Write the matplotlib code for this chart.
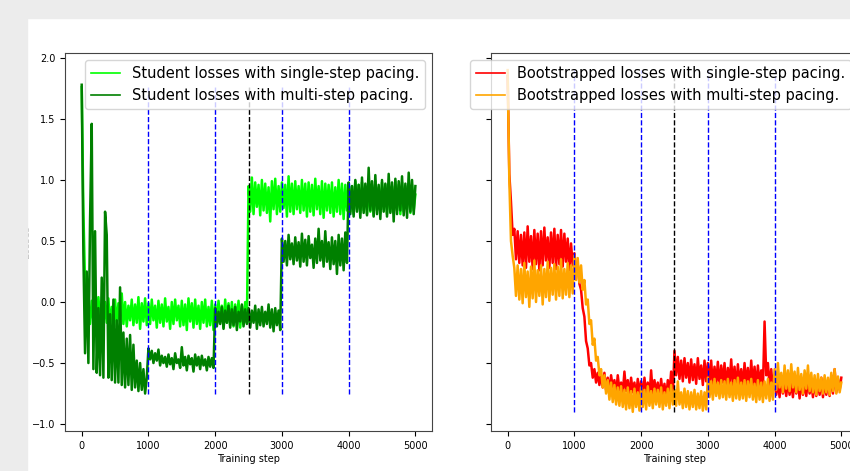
import numpy as np
import matplotlib
matplotlib.use("Agg")
import matplotlib.pyplot as plt
from matplotlib.patches import Rectangle

# loss readings every 25 training steps (0 .. 5000)
step_size = 25

student_single = [
    1.76, 0.75, 0.15, -0.02, -0.08, -0.18, 0.01, -0.16, -0.03, -0.20,
    0.04, -0.14, -0.02, -0.19, 0.00, -0.17, 0.03, -0.21, -0.04, -0.15,
    0.02, -0.20, -0.01, -0.16, 0.07, -0.18, 0.00, -0.20, -0.03, -0.15,
    0.02, -0.19, -0.02, -0.17, 0.04, -0.22, -0.01, -0.16, 0.03, -0.19,
    -0.01, -0.18, 0.02, -0.15, -0.03, -0.21, 0.01, -0.17, -0.02, -0.20,
    0.03, -0.16, -0.04, -0.22, 0.00, -0.18, 0.02, -0.15, -0.03, -0.20,
    0.01, -0.19, -0.02, -0.23, 0.03, -0.16, -0.01, -0.21, 0.02, -0.18,
    -0.03, -0.22, 0.00, -0.17, 0.02, -0.20, -0.04, -0.19, 0.01, -0.23,
    -0.02, -0.18, 0.01, -0.16, -0.03, -0.21, 0.02, -0.17, -0.01, -0.19,
    0.00, -0.20, -0.02, -0.16, 0.01, -0.21, -0.03, -0.18, 0.00, -0.17,
    0.95, 0.74, 1.02, 0.72, 0.98, 0.78, 0.96, 0.71, 1.00, 0.75,
    0.97, 0.73, 0.94, 0.66, 0.99, 0.76, 1.01, 0.72, 0.95, 0.74,
    0.98, 0.77, 0.96, 0.70, 1.03, 0.74, 0.97, 0.72, 0.99, 0.76,
    0.95, 0.73, 1.00, 0.75, 0.97, 0.70, 0.98, 0.74, 0.96, 0.71,
    1.01, 0.76, 0.95, 0.72, 0.99, 0.69, 0.97, 0.75, 0.96, 0.73,
    0.98, 0.70, 0.94, 0.74, 1.00, 0.72, 0.97, 0.68, 0.96, 0.75,
    0.97, 0.74, 0.95, 0.72, 0.99, 0.76, 0.96, 0.73, 0.98, 0.75,
    0.95, 0.72, 0.97, 0.74, 0.96, 0.71, 0.99, 0.75, 0.94, 0.73,
    0.98, 0.76, 0.96, 0.72, 0.97, 0.74, 0.95, 0.73, 0.99, 0.75,
    0.96, 0.72, 0.98, 0.74, 0.95, 0.76, 0.97, 0.73, 0.96, 0.75,
    0.88,
]

student_multi = [
    1.78, 0.40, -0.42, 0.25, -0.50, 0.67, 1.46, -0.55, 0.58, -0.58,
    -0.05, -0.60, 0.20, -0.62, 0.74, 0.55, -0.62, -0.10, -0.64, 0.02,
    -0.66, -0.15, -0.66, 0.12, -0.68, -0.25, -0.70, -0.30, -0.68, -0.27,
    -0.72, -0.35, -0.70, -0.48, -0.73, -0.50, -0.72, -0.55, -0.75, -0.62,
    -0.38, -0.47, -0.40, -0.50, -0.42, -0.48, -0.39, -0.52, -0.44, -0.50,
    -0.45, -0.53, -0.43, -0.51, -0.46, -0.55, -0.42, -0.50, -0.47, -0.54,
    -0.37, -0.52, -0.45, -0.56, -0.44, -0.51, -0.46, -0.57, -0.43, -0.52,
    -0.45, -0.55, -0.44, -0.52, -0.47, -0.56, -0.45, -0.53, -0.46, -0.54,
    -0.05, -0.20, -0.08, -0.18, -0.04, -0.22, -0.07, -0.17, -0.03, -0.21,
    -0.06, -0.19, -0.04, -0.23, -0.08, -0.16, -0.02, -0.20, -0.06, -0.18,
    -0.05, -0.21, -0.07, -0.17, -0.03, -0.22, -0.06, -0.19, -0.04, -0.20,
    -0.08, -0.18, -0.02, -0.21, -0.06, -0.24, -0.05, -0.19, -0.07, -0.23,
    0.52, 0.33, 0.50, 0.30, 0.55, 0.35, 0.48, 0.31, 0.53, 0.34,
    0.49, 0.29, 0.56, 0.33, 0.51, 0.30, 0.54, 0.36, 0.47, 0.28,
    0.52, 0.32, 0.60, 0.34, 0.50, 0.29, 0.58, 0.33, 0.49, 0.27,
    0.53, 0.31, 0.50, 0.23, 0.55, 0.30, 0.52, 0.26, 0.57, 0.32,
    0.98, 0.72, 0.95, 0.70, 1.00, 0.74, 0.96, 0.69, 1.02, 0.73,
    0.97, 0.71, 1.10, 0.75, 0.99, 0.70, 1.04, 0.72, 0.96, 0.68,
    1.00, 0.74, 0.97, 0.70, 1.05, 0.73, 0.98, 0.66, 1.01, 0.72,
    0.99, 0.75, 1.03, 0.71, 0.97, 0.69, 1.06, 0.74, 1.00, 0.72,
    0.95,
]

boot_single = [
    1.85, 1.05, 0.82, 0.55, 0.60, 0.35, 0.58, 0.32, 0.55, 0.30,
    0.57, 0.28, 0.62, 0.33, 0.54, 0.27, 0.59, 0.31, 0.56, 0.26,
    0.58, 0.30, 0.61, 0.34, 0.53, 0.28, 0.57, 0.32, 0.60, 0.27,
    0.55, 0.31, 0.59, 0.29, 0.56, 0.33, 0.52, 0.26, 0.48, 0.30,
    0.40, 0.28, 0.30, 0.15, 0.10, -0.05, -0.12, -0.32, -0.38, -0.52,
    -0.50, -0.62, -0.55, -0.66, -0.58, -0.68, -0.60, -0.70, -0.58, -0.72,
    -0.62, -0.74, -0.60, -0.70, -0.64, -0.76, -0.60, -0.72, -0.66, -0.75,
    -0.57, -0.73, -0.64, -0.77, -0.62, -0.74, -0.66, -0.78, -0.63, -0.76,
    -0.65, -0.78, -0.62, -0.75, -0.66, -0.79, -0.56, -0.76, -0.64, -0.74,
    -0.66, -0.79, -0.63, -0.77, -0.67, -0.80, -0.64, -0.75, -0.57, -0.78,
    -0.40, -0.60, -0.45, -0.63, -0.48, -0.65, -0.46, -0.62, -0.50, -0.66,
    -0.47, -0.64, -0.51, -0.67, -0.46, -0.63, -0.52, -0.68, -0.48, -0.65,
    -0.50, -0.66, -0.48, -0.69, -0.53, -0.67, -0.49, -0.70, -0.52, -0.66,
    -0.50, -0.71, -0.54, -0.67, -0.47, -0.69, -0.53, -0.72, -0.51, -0.68,
    -0.55, -0.70, -0.50, -0.68, -0.54, -0.72, -0.48, -0.69, -0.53, -0.71,
    -0.52, -0.68, -0.56, -0.72, -0.16, -0.60, -0.50, -0.70, -0.55, -0.73,
    -0.62, -0.76, -0.65, -0.78, -0.63, -0.75, -0.66, -0.77, -0.64, -0.76,
    -0.66, -0.78, -0.63, -0.75, -0.65, -0.79, -0.64, -0.76, -0.67, -0.77,
    -0.63, -0.75, -0.66, -0.78, -0.64, -0.77, -0.65, -0.76, -0.62, -0.78,
    -0.64, -0.76, -0.66, -0.77, -0.60, -0.75, -0.55, -0.74, -0.63, -0.72,
    -0.62,
]

boot_multi = [
    1.90, 1.00, 0.50, 0.38, 0.28, 0.05, 0.30, 0.02, 0.27, -0.01,
    0.32, 0.04, 0.25, -0.04, 0.29, 0.03, 0.34, 0.00, 0.26, 0.05,
    0.30, -0.02, 0.27, 0.04, 0.33, 0.01, 0.28, 0.06, 0.31, 0.02,
    0.29, 0.05, 0.35, 0.03, 0.27, 0.06, 0.32, 0.04, 0.30, 0.07,
    0.38, 0.18, 0.36, 0.16, 0.30, 0.10, 0.18, -0.02, 0.02, -0.18,
    -0.15, -0.35, -0.30, -0.48, -0.45, -0.60, -0.55, -0.70, -0.60, -0.75,
    -0.64, -0.80, -0.66, -0.82, -0.68, -0.84, -0.70, -0.85, -0.69, -0.86,
    -0.72, -0.88, -0.70, -0.87, -0.73, -0.90, -0.71, -0.86, -0.74, -0.89,
    -0.70, -0.86, -0.72, -0.88, -0.69, -0.85, -0.73, -0.87, -0.71, -0.84,
    -0.72, -0.86, -0.70, -0.88, -0.74, -0.85, -0.71, -0.87, -0.68, -0.84,
    -0.72, -0.85, -0.65, -0.84, -0.74, -0.87, -0.71, -0.86, -0.73, -0.88,
    -0.74, -0.86, -0.72, -0.88, -0.75, -0.87, -0.73, -0.89, -0.74, -0.88,
    -0.62, -0.78, -0.65, -0.80, -0.63, -0.77, -0.66, -0.79, -0.64, -0.78,
    -0.65, -0.80, -0.63, -0.78, -0.66, -0.81, -0.64, -0.79, -0.62, -0.80,
    -0.66, -0.79, -0.64, -0.81, -0.65, -0.78, -0.63, -0.80, -0.67, -0.82,
    -0.64, -0.80, -0.66, -0.82, -0.65, -0.79, -0.63, -0.81, -0.66, -0.80,
    -0.55, -0.72, -0.50, -0.70, -0.58, -0.74, -0.52, -0.71, -0.56, -0.73,
    -0.51, -0.70, -0.57, -0.74, -0.54, -0.72, -0.59, -0.75, -0.56, -0.71,
    -0.52, -0.73, -0.58, -0.74, -0.60, -0.76, -0.59, -0.73, -0.62, -0.75,
    -0.60, -0.74, -0.62, -0.76, -0.58, -0.73, -0.55, -0.75, -0.61, -0.74,
    -0.66,
]

multi_pacing_steps = [1000, 2000, 3000, 4000]
single_pacing_step = 2500

fig = plt.figure(figsize=(8.5, 4.71), dpi=100)
ax1 = fig.add_axes([0.0765, 0.0849, 0.4318, 0.8025])
ax2 = fig.add_axes([0.5776, 0.0849, 0.4318, 0.8025], sharey=ax1)


def draw_panel(ax, series, colors, labels):
    for vals, c, lbl in zip(series, colors, labels):
        x = np.arange(len(vals)) * step_size
        ax.plot(x, vals, color=c, lw=1.8, label=lbl)
    lo = min(min(v) for v in series)
    hi = max(max(v) for v in series)
    ax.vlines(multi_pacing_steps, lo, hi, colors='b', linestyles='--', lw=1.0)
    ax.vlines(single_pacing_step, lo, hi, colors='k', linestyles='--', lw=1.0)
    ax.set_xlim(-250, 5250)
    ax.set_xticks([0, 1000, 2000, 3000, 4000, 5000])
    ax.set_xlabel('Training step', fontsize=7, labelpad=2)
    ax.tick_params(labelsize=7, length=3.5, width=0.8)
    for s in ax.spines.values():
        s.set_linewidth(0.8)
        s.set_color('#444444')
    leg = ax.legend(loc='upper right', fontsize=10.5)
    for h in leg.get_lines():
        h.set_linewidth(1.2)


draw_panel(ax1, [student_single, student_multi], ['lime', 'green'],
           ['Student losses with single-step pacing.',
            'Student losses with multi-step pacing.'])
draw_panel(ax2, [boot_single, boot_multi], ['red', 'orange'],
           ['Bootstrapped losses with single-step pacing.',
            'Bootstrapped losses with multi-step pacing.'])

ax1.set_ylim(-1.057, 2.04)
ax1.set_yticks([-1.0, -0.5, 0.0, 0.5, 1.0, 1.5, 2.0])
ax1.set_ylabel('Losses', fontsize=7, color='#bbbbbb', labelpad=0.5)
ax2.tick_params(labelleft=False)

# grey screenshot frame on the top and left
grey = '#ececec'
fig.patches.append(Rectangle((0, 0), 27 / 850, 1, transform=fig.transFigure,
                             color=grey, zorder=5))
fig.patches.append(Rectangle((0, 1 - 18 / 471), 1, 18 / 471,
                             transform=fig.transFigure, color=grey, zorder=5))

plt.savefig('out.png', dpi=100)
